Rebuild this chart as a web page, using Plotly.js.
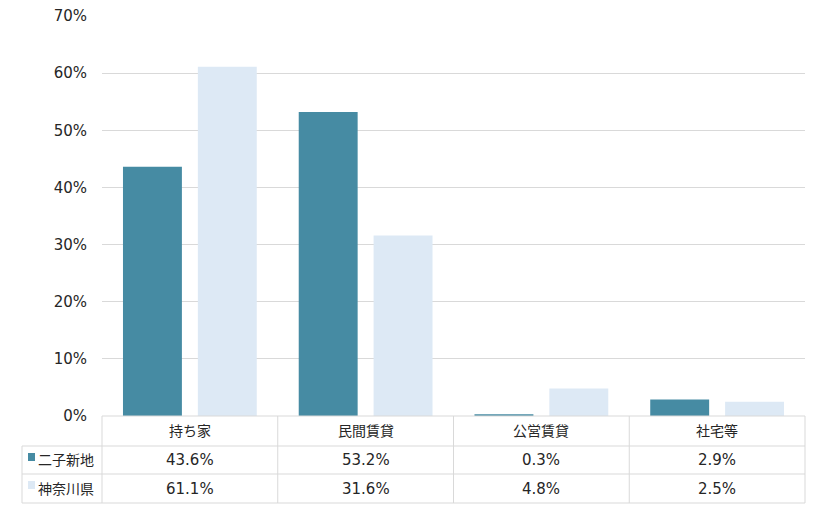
<!DOCTYPE html>
<html>
<head>
<meta charset="utf-8">
<script src="https://cdn.plot.ly/plotly-3.0.1.min.js"></script>
<style>
  html, body { margin: 0; padding: 0; background: #fff; }
  #chart { width: 820px; height: 510px; }
</style>
</head>
<body>
<div id="chart"></div>
<script>
const categories = ['持ち家', '民間賃貸', '公営賃貸', '社宅等'];
const seriesNames = ['二子新地', '神奈川県'];
const futakoValues = [43.6, 53.2, 0.3, 2.9];
const kanagawaValues = [61.1, 31.6, 4.8, 2.5];
const yTicks = [0, 10, 20, 30, 40, 50, 60, 70];

const colors = ['#468ba3', '#dde9f5'];
const font = "'DejaVu Sans', 'Noto Sans CJK JP', sans-serif";
const lineColor = '#d9d9d9';
const textColor = '#262626';
const fs = 15;

// paper y for table rows (plot area is 400px tall)
const py = (px) => (416 - px) / 400;
const pxX = (px) => (px - 102) / 703;

const rowsY = [py(431), py(460), py(489)];
const allValues = [futakoValues, kanagawaValues];

const data = seriesNames.map((name, i) => ({
    x: categories,
    y: allValues[i],
    type: 'bar',
    name: name,
    marker: { color: colors[i] },
    hoverinfo: 'none',
}));

let annotations = [];
categories.forEach((c) => {
    annotations.push({
        x: c, xref: 'x', xanchor: 'center',
        y: rowsY[0], yref: 'paper', yanchor: 'middle',
        text: c, showarrow: false,
        font: { family: font, size: 14, color: textColor },
    });
});
allValues.forEach((vals, i) => {
    vals.forEach((v, j) => {
        annotations.push({
            x: categories[j], xref: 'x', xanchor: 'center',
            y: rowsY[i + 1], yref: 'paper', yanchor: 'middle',
            text: v.toFixed(1) + '%', showarrow: false,
            font: { family: font, size: fs, color: textColor },
        });
    });
    annotations.push({
        x: pxX(36), xref: 'paper', xanchor: 'left',
        y: rowsY[i + 1], yref: 'paper', yanchor: 'middle',
        text: seriesNames[i], showarrow: false,
        font: { family: font, size: 14, color: textColor },
    });
});

let shapes = [];
// horizontal lines of the table
[446, 474, 503].forEach((p) => {
    shapes.push({
        type: 'line', xref: 'paper', yref: 'paper',
        x0: pxX(22), x1: 1,
        y0: py(p), y1: py(p),
        line: { color: lineColor, width: 1 },
    });
});
shapes.push({
    type: 'line', xref: 'paper', yref: 'paper',
    x0: 0, x1: 1, y0: 0, y1: 0,
    line: { color: lineColor, width: 1 },
});
// vertical lines
[0, 1].forEach((x) => {
    shapes.push({
        type: 'line', xref: 'paper', yref: 'paper',
        x0: x, x1: x, y0: 0, y1: py(503),
        line: { color: lineColor, width: 1 },
    });
});
[0.5, 1.5, 2.5].forEach((x) => {
    shapes.push({
        type: 'line', xref: 'x', yref: 'paper',
        x0: x, x1: x, y0: 0, y1: py(503),
        line: { color: lineColor, width: 1 },
    });
});
shapes.push({
    type: 'line', xref: 'paper', yref: 'paper',
    x0: pxX(22), x1: pxX(22), y0: py(446), y1: py(503),
    line: { color: lineColor, width: 1 },
});
// legend keys
colors.forEach((c, i) => {
    const cy = [457, 485][i];
    shapes.push({
        type: 'rect', xref: 'paper', yref: 'paper',
        x0: pxX(28), x1: pxX(35), y0: py(cy - 4), y1: py(cy + 4),
        fillcolor: c, line: { width: 0 },
    });
});

const layout = {
    width: 820,
    height: 510,
    margin: { l: 102, r: 15, t: 16, b: 94 },
    paper_bgcolor: '#fff',
    plot_bgcolor: '#fff',
    showlegend: false,
    barmode: 'group',
    bargap: 0.148,
    bargroupgap: 0.213,
    font: { family: font, size: fs, color: textColor },
    xaxis: {
        showticklabels: false,
        showline: false,
        zeroline: false,
        showgrid: false,
        fixedrange: true,
    },
    yaxis: {
        range: [0, 70],
        tickvals: yTicks,
        ticktext: yTicks.map((t) => t + '%'),
        showgrid: true,
        gridcolor: lineColor,
        zeroline: false,
        showline: false,
        ticks: '',
        ticklabelstandoff: 14,
        tickfont: { family: font, size: fs, color: textColor },
        fixedrange: true,
    },
    annotations: annotations,
    shapes: shapes,
};

Plotly.newPlot('chart', data, layout, { displayModeBar: false, staticPlot: true });
</script>
</body>
</html>
